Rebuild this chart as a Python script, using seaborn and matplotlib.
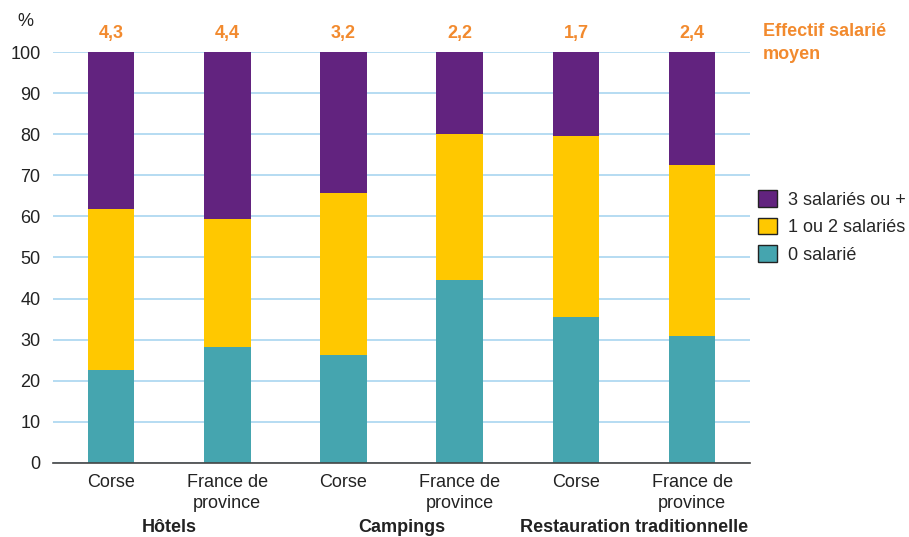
import pandas as pd
import numpy as np
import matplotlib
matplotlib.use('Agg')
import matplotlib.pyplot as plt
import seaborn as sns
from matplotlib.patches import Patch

# Données (en %)
bars = ['Hôtels Corse', 'Hôtels France', 'Campings Corse', 'Campings France',
        'Restau Corse', 'Restau France']
tick_labels = ['Corse', 'France de\nprovince', 'Corse', 'France de\nprovince',
               'Corse', 'France de\nprovince']
groups = ['Hôtels', 'Campings', 'Restauration traditionnelle']
zero_sal = [22.5, 28.1, 26.3, 44.4, 35.6, 30.8]
one_two_sal = [39.4, 31.3, 39.5, 35.7, 44.0, 41.8]
three_plus_sal = [38.1, 40.6, 34.2, 19.9, 20.4, 27.4]
effectif_moyen = ['4,3', '4,4', '3,2', '2,2', '1,7', '2,4']

purple = '#62237f'
yellow = '#ffc800'
teal = '#45a5af'
orange = '#f28a2e'
txt = '#222222'

sns.set_style('white')
plt.rcParams['font.family'] = ['Liberation Sans', 'DejaVu Sans']

df = pd.DataFrame({'bar': bars, 'zero': zero_sal, 'one_two': one_two_sal,
                   'three': three_plus_sal})
df['top_yellow'] = df['zero'] + df['one_two']
df['top_purple'] = df['top_yellow'] + df['three']

fig = plt.figure(figsize=(9.09, 5.37), dpi=100)
ax = fig.add_axes([0.0583, 0.138, 0.767, 0.765])

# Barres empilées : on trace les cumuls de l'arrière vers l'avant
for col, c in [('top_purple', purple), ('top_yellow', yellow), ('zero', teal)]:
    sns.barplot(data=df, x='bar', y=col, color=c, width=0.4, saturation=1,
                linewidth=0, edgecolor='none', ax=ax, zorder=3)

ax.set_xlim(-0.5, 5.5)
ax.set_ylim(0, 100)
ax.set_yticks(range(0, 101, 10))
ax.yaxis.grid(True, color='#a9d5f0', linewidth=1.2, zorder=0)
ax.set_axisbelow(True)
for s in ['top', 'right', 'left']:
    ax.spines[s].set_visible(False)
ax.spines['bottom'].set_color('#444444')
ax.spines['bottom'].set_linewidth(1.2)
ax.spines['bottom'].set_zorder(5)
ax.set_xlabel('')
ax.set_ylabel('')
ax.set_xticks(range(6))
ax.set_xticklabels(tick_labels, fontsize=13, color=txt, linespacing=1.3)
ax.tick_params(axis='y', labelsize=13, colors=txt, length=0, pad=9)
ax.tick_params(axis='x', length=0, pad=8)

# Effectif salarié moyen au-dessus des barres
for i, v in enumerate(effectif_moyen):
    ax.text(i, 104.6, v, ha='center', va='center', fontsize=13,
            fontweight='bold', color=orange, clip_on=False)

# Libellés des groupes
for k, g in enumerate(groups):
    ax.text(2 * k + 0.5, -0.158, g, transform=ax.get_xaxis_transform(),
            ha='center', va='center', fontsize=13, fontweight='bold',
            color=txt)

fig.text(25 / 909, 1 - 21 / 537, '%', fontsize=13, color=txt,
         ha='center', va='center')
fig.text(763 / 909, 1 - 23 / 537, 'Effectif salarié\nmoyen', fontsize=13,
         fontweight='bold', color=orange, ha='left', va='top',
         linespacing=1.45)

handles = [Patch(facecolor=purple, edgecolor=txt, label='3 salariés ou +'),
           Patch(facecolor=yellow, edgecolor=txt, label='1 ou 2 salariés'),
           Patch(facecolor=teal, edgecolor=txt, label='0 salarié')]
fig.legend(handles=handles, loc='upper left',
           bbox_to_anchor=(758 / 909, 1 - 190 / 537), frameon=False,
           fontsize=13, handlelength=1.05, handleheight=1.05,
           handletextpad=0.6, labelspacing=0.5, borderaxespad=0,
           borderpad=0)

fig.savefig('out.png', dpi=100)
